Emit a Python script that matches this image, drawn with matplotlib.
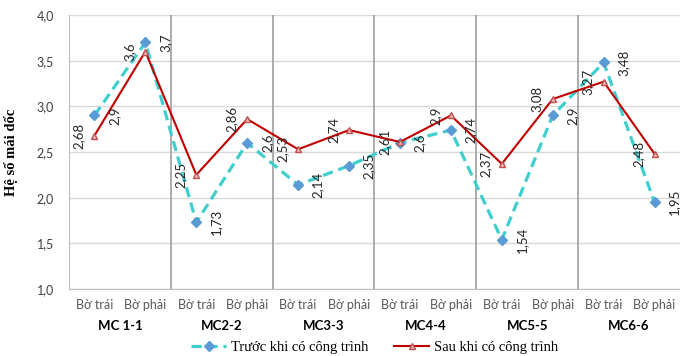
import matplotlib
matplotlib.use("Agg")
import matplotlib.pyplot as plt
import matplotlib.transforms as mtransforms

# datos del grafico
mat_cat = ["MC 1-1", "MC2-2", "MC3-3", "MC4-4", "MC5-5", "MC6-6"]
bo = ["Bờ trái", "Bờ phải"]
truoc = [2.9, 3.7, 1.73, 2.6, 2.14, 2.35, 2.6, 2.74, 1.54, 2.9, 3.48, 1.95]
sau = [2.68, 3.6, 2.25, 2.86, 2.53, 2.74, 2.61, 2.9, 2.37, 3.08, 3.27, 2.48]
y_ticks = [1.0, 1.5, 2.0, 2.5, 3.0, 3.5, 4.0]

n = len(truoc)
x = list(range(n))
etiquetas_x = [bo[i % 2] for i in x]

fig = plt.figure(figsize=(6.8, 3.56), dpi=100)
ax = fig.add_axes([69 / 680, 1 - 289 / 356, 1 - 69 / 680, (289 - 15) / 356])

# rejilla horizontal y separadores de grupos
for yt in y_ticks:
    ax.axhline(yt, color="#d9d9d9", lw=1, zorder=0)
for g in range(1, len(mat_cat)):
    ax.axvline(g * 2 - 0.5, color="#a6a6a6", lw=1.3, zorder=0)

# lineas de datos
ax.plot(x, truoc, color="#3fcfcf", lw=2.3, ls=(0, (3.2, 1.8)), marker="D",
        markersize=5, markerfacecolor="#5b9bd5", markeredgecolor="#5b9bd5",
        label="Trước khi có công trình", zorder=3)
ax.plot(x, sau, color="#c00000", lw=1.5, marker="^", markersize=4.5,
        markerfacecolor="#f0b8b8", markeredgecolor="#c0504d", markeredgewidth=1,
        label="Sau khi có công trình", zorder=4)

# etiquetas de valores giradas
def fmt(v):
    return f"{v:g}".replace(".", ",")

for xi, v in zip(x, truoc):
    ax.annotate(fmt(v), (xi, v), xytext=(10, 0), textcoords="offset points",
                rotation=90, ha="left", va="center", fontsize=9.5,
                family="Lato", color="#262626", zorder=5)
for xi, v in zip(x, sau):
    ax.annotate(fmt(v), (xi, v), xytext=(-7, 0), textcoords="offset points",
                rotation=90, ha="right", va="center", fontsize=9.5,
                family="Lato", color="#262626", zorder=5)

ax.set_xlim(-0.5, n - 0.5)
ax.set_ylim(1.0, 4.0)
ax.set_yticks(y_ticks)
ax.set_yticklabels([f"{v:.1f}".replace(".", ",") for v in y_ticks],
                   family="Lato", fontsize=9, color="#404040")
ax.set_xticks(x)
ax.set_xticklabels(etiquetas_x, family="Lato", fontsize=9, color="#595959")
ax.tick_params(axis="y", length=0, pad=11)
ax.tick_params(axis="x", length=0, pad=7)

for lado in ["top", "right"]:
    ax.spines[lado].set_visible(False)
ax.spines["left"].set_color("#bfbfbf")
ax.spines["bottom"].set_color("#bfbfbf")

ax.set_ylabel("Hệ số mái dốc", family="Liberation Serif", fontweight="bold",
              fontsize=10.5, labelpad=13)

# nombres de los grupos debajo
trans = mtransforms.blended_transform_factory(ax.transData, fig.transFigure)
for g, nombre in enumerate(mat_cat):
    ax.text(g * 2 + 0.5, 1 - 326 / 356, nombre, transform=trans, ha="center",
            va="center", fontsize=9.5, fontweight="bold", family="Lato",
            color="#000000")

ax.legend(loc="center", bbox_to_anchor=(0.5, (289 - 347) / 274), ncol=2,
          frameon=False, prop={"family": "Liberation Serif", "size": 10.5},
          handlelength=2.4, columnspacing=1.8, handletextpad=0.3)

fig.savefig("out.png", dpi=100)
